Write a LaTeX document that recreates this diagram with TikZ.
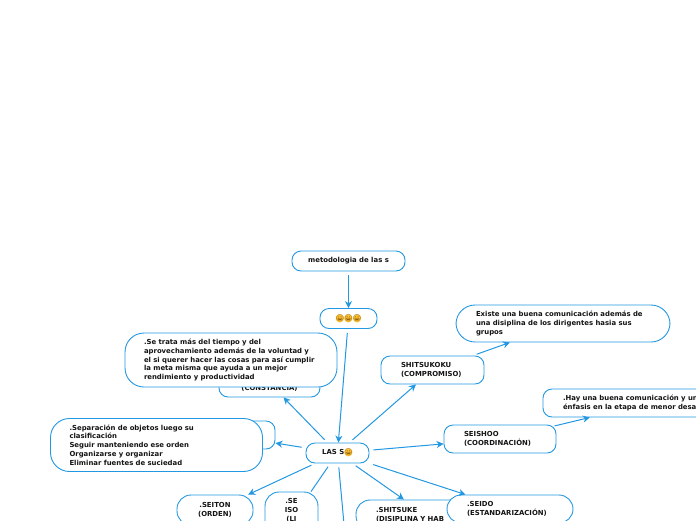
\documentclass[tikz,border=0pt]{standalone}
\usepackage{fontspec}
\setmainfont{DejaVu Sans}
\newfontfamily\emojifont{Noto Emoji}
\usepackage{xcolor}
\usetikzlibrary{arrows.meta, positioning}
\definecolor{mapblue}{RGB}{34,152,226}
\definecolor{mapink}{RGB}{20,20,20}
\definecolor{smiley}{RGB}{250,190,50}
\definecolor{smileyline}{RGB}{110,70,10}
\newcommand{\grin}{\makebox[8.6pt]{\makebox[0pt]{\raisebox{-1.1pt}{\fontsize{10.5}{10.5}\selectfont\color{smiley}●}}\makebox[0pt]{\emojifont\color{smileyline}😀}}}

\begin{document}
\begin{tikzpicture}[
  x=1pt, y=-1pt,
  topic/.style={rectangle, rounded corners=9pt, draw=mapblue, fill=white, line width=0.9pt, inner xsep=0pt, inner ysep=0pt, minimum height=20pt, align=center, text=mapink, font=\fontsize{6.9}{8.8}\selectfont\bfseries},
  leftbox/.style={topic, align=left, inner xsep=20pt, text width=#1},
  bigbox/.style={leftbox=#1, rounded corners=19pt},
  arrow/.style={-{Stealth[length=7pt,width=7pt]}, draw=mapblue, line width=1pt, shorten <=4pt},
  plain/.style={draw=mapblue, line width=1pt, shorten <=4pt}
]
\useasboundingbox (0,0) rectangle (696,520);
\clip (0,0) rectangle (696,520);

\node[topic, minimum width=113pt] (title) at (348.5,261) {metodologia de las s};
\node[topic, minimum width=57pt] (faces) at (348.5,318.5) {\grin\grin\grin};
\node[topic, minimum width=63pt] (lass) at (337.5,453) {LAS S\grin};

\node[leftbox=63pt, minimum height=28pt] (shitsukoku) at (432.5,370) {SHITSUKOKU\\(COMPROMISO)};
\node[bigbox=174pt, minimum height=37pt] (existe) at (563,323.5) {Existe una buena comunicación además de\\una disiplina de los dirigentes hasia sus\\grupos};
\node[leftbox=72pt, minimum height=28pt] (seishoo) at (500,439) {SEISHOO\\(COORDINACIÓN)};
\node[leftbox=174pt, minimum height=28pt] (enfasis) at (650,403) {.Hay una buena comunicación y un\\énfasis en la etapa de menor desa};

\node[topic, minimum width=101pt, minimum height=28pt] (constancia) at (269.5,383) {\strut\\(CONSTANCIA)};
\node[bigbox=174pt, inner xsep=19pt, minimum height=54pt] (tiempo) at (231,360) {.Se trata más del tiempo y del\\aprovechamiento además de la voluntad y\\el si querer hacer las cosas para así cumplir\\la meta misma que ayuda a un mejor\\rendimiento y productividad};
\node[topic, minimum width=100pt, minimum height=28pt] (hidden) at (225,435) {};
\node[bigbox=174pt, inner xsep=19pt, minimum height=53pt] (separa) at (156.5,445) {.Separación de objetos luego su\\clasificación\\Seguir manteniendo ese orden\\Organizarse y organizar\\Eliminar fuentes de suciedad};

\node[topic, rounded corners=14pt, minimum width=76pt, minimum height=30pt] (seiton) at (215,510) {.SEITON\\(ORDEN)};
\node[topic, rounded corners=14pt, minimum width=53pt, minimum height=56pt] (seiso) at (291.5,520) {.SE\\ISO\\(LI\\\strut\\\strut};
\node[leftbox=100pt, rounded corners=14pt, minimum height=30pt] (shitsuke) at (426,515) {.SHITSUKE\\(DISIPLINA Y HAB};
\node[leftbox=86pt, rounded corners=14pt, minimum height=28pt] (seido) at (510,509) {.SEIDO\\(ESTANDARIZACIÓN)};
\coordinate (below) at (345,535);

\draw[arrow, line width=1.6pt] (title) -- (faces);
\draw[arrow] (faces) -- (lass);
\draw[arrow] (lass) -- (shitsukoku);
\draw[arrow] (shitsukoku) -- (existe);
\draw[arrow] (lass) -- (seishoo);
\draw[arrow, shorten <=-2pt] (seishoo) -- (enfasis);
\draw[arrow] (lass) -- (constancia);
\draw[arrow] (lass) -- (hidden);
\draw[arrow] (lass) -- (seiton);
\draw[plain] (lass) -- (seiso);
\draw[plain] (lass) -- (below);
\draw[arrow] (lass) -- (shitsuke);
\draw[arrow] (lass) -- (seido);
\end{tikzpicture}
\end{document}
